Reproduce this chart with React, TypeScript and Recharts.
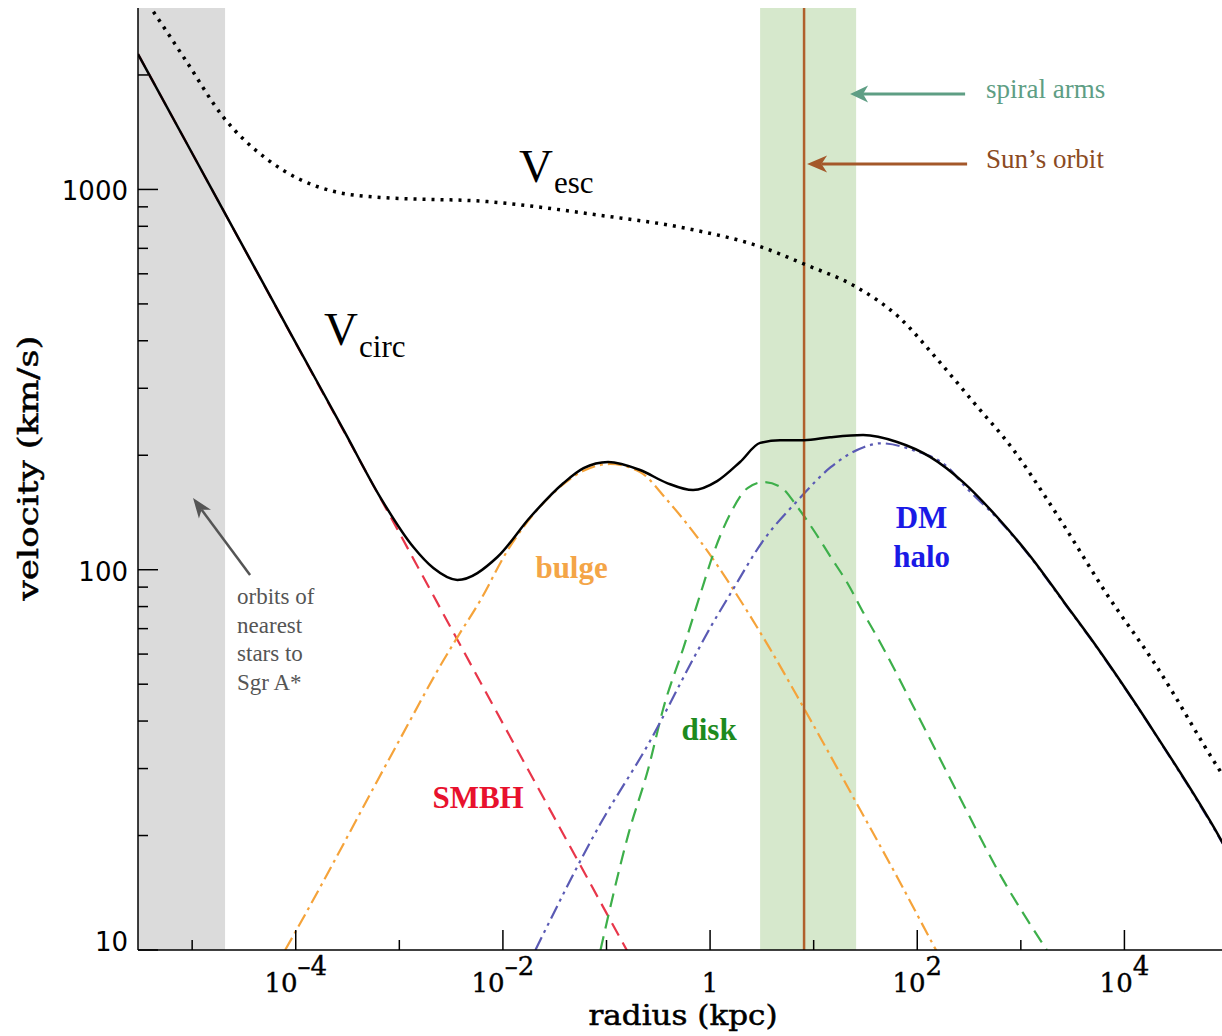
import React from 'react';
import {
  ComposedChart,
  Line,
  XAxis,
  YAxis,
  ReferenceArea,
  ReferenceLine,
  ReferenceDot,
} from 'recharts';

// ---------- data (radius in kpc, velocity in km/s) ----------
const smbhR = [3e-6, 1e-5, 1e-4, 1e-3, 1e-2, 0.1, 0.16];
const smbhV = [2270, 1245, 394, 125, 39.4, 12.5, 9.9];

const bulgeR = [7.9e-5, 1e-4, 1e-3, 2.66e-3, 3.63e-3, 6.06e-3, 0.011, 0.0158, 0.0285, 0.06, 0.1083, 0.211, 0.3845, 0.801, 1.667, 3.796, 7.73, 24.56, 65.3, 148.7, 170];
const bulgeV = [10, 11.2, 35.6, 57.7, 66.4, 83.1, 112, 129.5, 156, 182, 189.7, 180.7, 152.5, 119, 89, 61.9, 44.1, 25, 15.4, 10.1, 9.44];

const diskR = [0.0875, 0.163, 0.255, 0.356, 0.555, 0.81, 1.08, 1.58, 2.3, 3.29, 4.8, 7.0, 10, 14.6, 21.3, 30.4, 44.4, 92.5, 246, 655, 1782];
const diskV = [10, 20.2, 30.2, 43.5, 62.5, 86.7, 110.5, 141, 164, 170, 165, 146, 127, 108, 92, 76.8, 64, 43.5, 25.8, 15.5, 10];

const haloR = [0.0206, 0.0875, 0.255, 0.693, 1.01, 1.58, 3.29, 7.0, 14.6, 30.4, 44.4, 92.5, 197, 281, 600, 1250, 2605, 4645, 20140, 83700, 1e5];
const haloV = [10, 21.5, 34.9, 58.5, 70.6, 86.7, 119.7, 152, 186, 210, 215, 206, 186, 167, 136, 107.5, 82.0, 66.2, 36.7, 19.6, 18.0];

const circR = [3e-6, 1e-5, 1e-4, 3e-4, 6.55e-4, 1.365e-3, 2.13e-3, 3.63e-3, 8.85e-3, 0.0184, 0.0385, 0.06, 0.1036, 0.211, 0.3845, 0.685, 1.169, 1.948, 3.04, 4.74, 8.08, 14.4, 30.0, 63.9, 133, 277, 590, 1250, 2605, 4645, 20140, 83700, 1e5];
const circV = [2270, 1245, 395, 229, 155, 114.7, 101, 94, 108, 137.6, 169, 185, 192, 182.9, 169, 162, 171, 192, 215.5, 219, 219, 223, 226, 216.7, 198, 170, 137.6, 108, 82.3, 66.4, 36.8, 19.7, 18.05];

const escR = [3e-6, 3.93e-6, 8.5e-6, 2.0e-5, 5.3e-5, 1.1e-4, 2.3e-4, 6.55e-4, 7.08e-3, 0.0766, 0.663, 3.01, 8.37, 25.5, 66.2, 158, 352, 855, 1823, 2547, 6640, 20180, 83700, 1e5];
const escV = [3350, 3017, 2203, 1549, 1200, 1062, 989, 953, 929, 859, 785, 708, 634, 555, 462, 356, 275, 206, 152, 132, 86.9, 56, 29.6, 27.5];

// axis ticks
const xDomain = [3e-6, 1e5];
const yDomain = [10, 3000];
const xTicks = [1e-5, 1e-4, 1e-3, 1e-2, 1e-1, 1, 10, 100, 1e3, 1e4];
const yTicks = [10, 20, 30, 40, 50, 60, 70, 80, 90, 100, 200, 300, 400, 500, 600, 700, 800, 900, 1000, 2000];

// regions (kpc)
const nearestStarsBand = [3e-6, 2.078e-5];
const spiralArmsBand = [3.04, 25.7];
const sunOrbitR = 8.08;

const zip = (rs: number[], vs: number[]) => rs.map((r, i) => ({ r, v: vs[i] }));
const smbhData = zip(smbhR, smbhV);
const bulgeData = zip(bulgeR, bulgeV);
const diskData = zip(diskR, diskV);
const haloData = zip(haloR, haloV);
const circData = zip(circR, circV);
const escData = zip(escR, escV);

// ---------- styling ----------
const SERIF = "'Liberation Serif', 'Times New Roman', serif";
const SLAB = "'DejaVu Serif', serif";
const SANS = "'DejaVu Sans', sans-serif";
const MAJOR = 20;
const MINOR = 10;

const expOf = (v: number) => Math.round(Math.log10(v));
const isDecade = (v: number) => Math.abs(Math.log10(v) - Math.round(Math.log10(v))) < 1e-6;

function BottomTick(props: any) {
  const { x, y, payload } = props;
  const e = expOf(payload.value);
  const major = Math.abs(e) % 2 === 0;
  const txt = { textAnchor: 'middle' as const, fontFamily: SLAB, fontSize: 26, fill: '#000', stroke: '#000', strokeWidth: 0.4 };
  return (
    <g>
      <line x1={x} y1={y} x2={x} y2={y - (major ? MAJOR : MINOR)} stroke="#000" strokeWidth={1.5} />
      {major && (
        e === 0 ? (
          <text x={x} y={y + 42} {...txt}>1</text>
        ) : (
          <text x={x} y={y + 42} {...txt}>
            10<tspan dy={-17}>{e < 0 ? '\u2013' + -e : String(e)}</tspan>
          </text>
        )
      )}
    </g>
  );
}

function TopTick(props: any) {
  const { x, y, payload } = props;
  const e = expOf(payload.value);
  const major = Math.abs(e) % 2 === 0;
  return <line x1={x} y1={y} x2={x} y2={y + (major ? MAJOR : MINOR)} stroke="#000" strokeWidth={1.5} />;
}

function LeftTick(props: any) {
  const { x, y, payload } = props;
  const v = payload.value;
  const major = isDecade(v);
  return (
    <g>
      <line x1={x} y1={y} x2={x + (major ? MAJOR : MINOR)} y2={y} stroke="#000" strokeWidth={1.5} />
      {major && (
        <text x={x - 10} y={v === 10 ? y + 1 : y + 11} textAnchor="end" fontFamily={SANS} fontSize={26} fill="#000">
          {String(v)}
        </text>
      )}
    </g>
  );
}

function RightTick(props: any) {
  const { x, y, payload } = props;
  const major = isDecade(payload.value);
  return <line x1={x} y1={y} x2={x - (major ? MAJOR : MINOR)} y2={y} stroke="#000" strokeWidth={1.5} />;
}

const XTitle = (props: any) => {
  const vb = props.viewBox || { x: 138, y: 950, width: 1090, height: 86 };
  return (
    <text x={vb.x + vb.width / 2} y={vb.y + 75} textAnchor="middle" fontFamily={SLAB} fontSize={27}
      textLength={189} lengthAdjust="spacingAndGlyphs" fill="#000" stroke="#000" strokeWidth={0.5}>
      radius (kpc)
    </text>
  );
};

const YTitle = (props: any) => {
  const vb = props.viewBox || { x: 0, y: 8, width: 138, height: 942 };
  const cx = 38;
  const cy = vb.y + vb.height / 2 - 11;
  return (
    <text x={cx} y={cy} transform={`rotate(-90 ${cx} ${cy})`} textAnchor="middle" fontFamily={SLAB} fontSize={27}
      textLength={265} lengthAdjust="spacingAndGlyphs" fill="#000" stroke="#000" strokeWidth={0.5}>
      velocity (km/s)
    </text>
  );
};

const makeArrow = (color: string, width: number, headLen: number, headHalf: number) => (p: any) => {
  const { x1, y1, x2, y2 } = p;
  if (![x1, y1, x2, y2].every((n) => Number.isFinite(n))) return <g />;
  const a = Math.atan2(y2 - y1, x2 - x1);
  const c = Math.cos(a);
  const s = Math.sin(a);
  const bx = x2 - headLen * c;
  const by = y2 - headLen * s;
  const nx = x2 - headLen * 0.72 * c;
  const ny = y2 - headLen * 0.72 * s;
  const pts = `${x2},${y2} ${bx - headHalf * s},${by + headHalf * c} ${nx},${ny} ${bx + headHalf * s},${by - headHalf * c}`;
  return (
    <g>
      <line x1={x1} y1={y1} x2={nx} y2={ny} stroke={color} strokeWidth={width} />
      <polygon points={pts} fill={color} />
    </g>
  );
};

const textAt = (render: (x: number, y: number) => React.ReactElement) => (p: any) =>
  Number.isFinite(p.cx) && Number.isFinite(p.cy) ? render(p.cx, p.cy) : <g />;

const boldLabel = (label: string, color: string) =>
  textAt((x, y) => (
    <text x={x} y={y} textAnchor="middle" fontFamily={SERIF} fontWeight="bold" fontSize={31} fill={color}>
      {label}
    </text>
  ));

export default function App() {
  return (
    <div style={{ position: 'absolute', left: 0, top: 0, width: 1222, height: 1036, overflow: 'hidden', background: '#fff' }}>
      <ComposedChart width={1232} height={1036} margin={{ top: 8, right: 4, bottom: 0, left: 0 }}>
        <XAxis
          xAxisId={0}
          dataKey="r"
          type="number"
          scale="log"
          domain={xDomain}
          allowDataOverflow
          ticks={xTicks}
          interval={0}
          height={86}
          tickSize={0}
          tickMargin={0}
          tick={BottomTick}
          tickLine={false}
          axisLine={{ stroke: '#000', strokeWidth: 1.5 }}
          label={{ content: XTitle }}
        />
        <XAxis
          xAxisId="top"
          orientation="top"
          type="number"
          scale="log"
          domain={xDomain}
          allowDataOverflow
          ticks={xTicks}
          interval={0}
          height={0}
          tickSize={0}
          tickMargin={0}
          tick={TopTick}
          tickLine={false}
          axisLine={{ stroke: '#000', strokeWidth: 1.5 }}
        />
        <YAxis
          yAxisId={0}
          type="number"
          scale="log"
          domain={yDomain}
          allowDataOverflow
          ticks={yTicks}
          interval={0}
          width={138}
          tickSize={0}
          tickMargin={0}
          tick={LeftTick}
          tickLine={false}
          axisLine={{ stroke: '#000', strokeWidth: 1.5 }}
          label={{ content: YTitle }}
        />
        <YAxis
          yAxisId="right"
          orientation="right"
          type="number"
          scale="log"
          domain={yDomain}
          allowDataOverflow
          ticks={yTicks}
          interval={0}
          width={0}
          tickSize={0}
          tickMargin={0}
          tick={RightTick}
          tickLine={false}
          axisLine={{ stroke: '#000', strokeWidth: 1.5 }}
        />

        <ReferenceArea x1={nearestStarsBand[0]} x2={nearestStarsBand[1]} fill="#DBDBDB" fillOpacity={1} stroke="none" />
        <ReferenceArea x1={spiralArmsBand[0]} x2={spiralArmsBand[1]} fill="#D6E8CC" fillOpacity={1} stroke="none" />

        <Line data={smbhData} dataKey="v" type="linear" stroke="#E8364A" strokeWidth={2.2} strokeDasharray="14 8" dot={false} activeDot={false} isAnimationActive={false} />
        <Line data={bulgeData} dataKey="v" type="monotone" stroke="#F5A33A" strokeWidth={2.2} strokeDasharray="14 5 3 5" dot={false} activeDot={false} isAnimationActive={false} />
        <Line data={diskData} dataKey="v" type="monotone" stroke="#3DAF4A" strokeWidth={2.2} strokeDasharray="14 8" dot={false} activeDot={false} isAnimationActive={false} />
        <Line data={haloData} dataKey="v" type="monotone" stroke="#5A5AB4" strokeWidth={2.2} strokeDasharray="14 5 3 5 3 5" dot={false} activeDot={false} isAnimationActive={false} />

        <ReferenceLine x={sunOrbitR} stroke="#B0602C" strokeWidth={2.5} />

        <Line data={escData} dataKey="v" type="monotone" stroke="#000" strokeWidth={3.5} strokeDasharray="3 6" dot={false} activeDot={false} isAnimationActive={false} />
        <Line data={circData} dataKey="v" type="monotone" stroke="#000" strokeWidth={2.5} dot={false} activeDot={false} isAnimationActive={false} />

        {/* arrows */}
        <ReferenceLine segment={[{ x: 289.7, y: 1782 }, { x: 22.47, y: 1782 }]} shape={makeArrow('#5E9E84', 3, 18, 8.5)} />
        <ReferenceLine segment={[{ x: 302.9, y: 1166.5 }, { x: 8.64, y: 1166.5 }]} shape={makeArrow('#A4582A', 3, 20, 8.5)} />
        <ReferenceLine segment={[{ x: 3.622e-5, y: 96.85 }, { x: 1.02e-5, y: 154.3 }]} shape={makeArrow('#555555', 2.5, 20, 7.5)} />

        {/* text annotations */}
        <ReferenceDot x={1.877e-4} y={389.9} r={0} shape={textAt((x, y) => (
          <text x={x} y={y} fontFamily={SERIF} fill="#000">
            <tspan fontSize={47}>V</tspan>
            <tspan fontSize={31} dy={12} dx={1}>circ</tspan>
          </text>
        ))} />
        <ReferenceDot x={0.01432} y={1046} r={0} shape={textAt((x, y) => (
          <text x={x} y={y} fontFamily={SERIF} fill="#000">
            <tspan fontSize={47}>V</tspan>
            <tspan fontSize={31} dy={11} dx={1}>esc</tspan>
          </text>
        ))} />
        <ReferenceDot x={0.04602} y={95.1} r={0} shape={boldLabel('bulge', '#F4A547')} />
        <ReferenceDot x={5.755e-3} y={23.62} r={0} shape={boldLabel('SMBH', '#E8112D')} />
        <ReferenceDot x={0.978} y={35.66} r={0} shape={boldLabel('disk', '#1E8A1E')} />
        <ReferenceDot x={110.1} y={128.8} r={0} shape={boldLabel('DM', '#1A1AE6')} />
        <ReferenceDot x={110.1} y={101.6} r={0} shape={boldLabel('halo', '#1A1AE6')} />
        <ReferenceDot x={2.714e-5} y={81.2} r={0} shape={textAt((x, y) => (
          <text x={x} y={y} fontFamily={SERIF} fontSize={23} fill="#555555">
            <tspan x={x} dy={0}>orbits of</tspan>
            <tspan x={x} dy={28.5}>nearest</tspan>
            <tspan x={x} dy={28.5}>stars to</tspan>
            <tspan x={x} dy={28.5}>Sgr A*</tspan>
          </text>
        ))} />
        <ReferenceDot x={461.9} y={1739} r={0} shape={textAt((x, y) => (
          <text x={x} y={y} fontFamily={SERIF} fontSize={27} fill="#5E9E84">spiral arms</text>
        ))} />
        <ReferenceDot x={461.9} y={1138} r={0} shape={textAt((x, y) => (
          <text x={x} y={y} fontFamily={SERIF} fontSize={27} fill="#8B4A22">Sun{'\u2019'}s orbit</text>
        ))} />
      </ComposedChart>
    </div>
  );
}
